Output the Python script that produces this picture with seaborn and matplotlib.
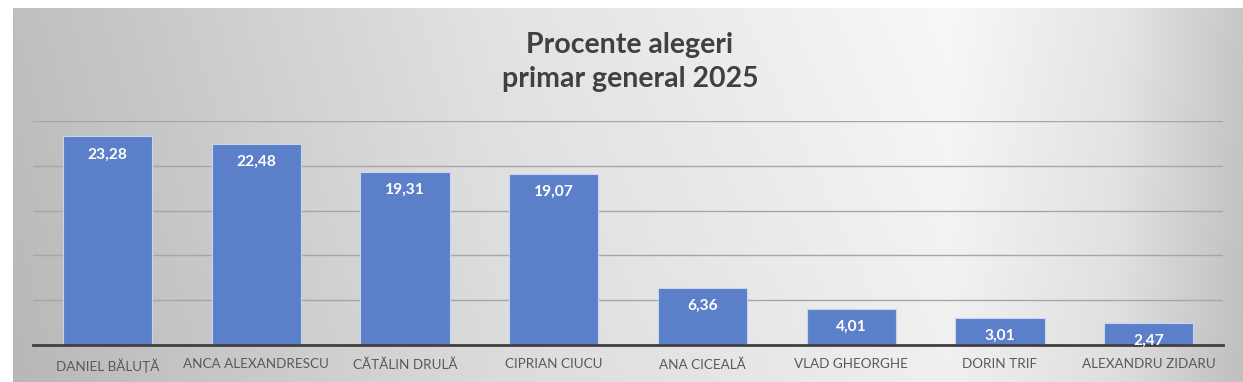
import numpy as np
import pandas as pd
import matplotlib
matplotlib.use("Agg")
import matplotlib.pyplot as plt
import seaborn as sns

categories = ["DANIEL BĂLUȚĂ", "ANCA ALEXANDRESCU", "CĂTĂLIN DRULĂ", "CIPRIAN CIUCU",
              "ANA CICEALĂ", "VLAD GHEORGHE", "DORIN TRIF", "ALEXANDRU ZIDARU"]
values = [23.28, 22.48, 19.31, 19.07, 6.36, 4.01, 3.01, 2.47]
value_labels = ["23,28", "22,48", "19,31", "19,07", "6,36", "4,01", "3,01", "2,47"]
title = "Procente alegeri\nprimar general 2025"

sns.set_theme(style="white")
plt.rcParams["font.family"] = ["Lato", "DejaVu Sans"]

W, H = 1243, 382
fig = plt.figure(figsize=(W / 100, H / 100), dpi=100)
fig.patch.set_facecolor("white")

# background gradient panel
bg = fig.add_axes([0, 0, 1, 1], zorder=-5)
bg.set_xlim(0, W)
bg.set_ylim(0, H)
bg.axis("off")
xs = np.linspace(13, W, 600)
ys = np.linspace(0, H - 8, 200)
X, Y = np.meshgrid(xs, ys)
xp = np.array([13, 500, 950, 1120, W])
vp = np.array([0.75, 0.89, 0.97, 0.90, 0.78])
G = np.interp(X, xp, vp) - 0.03 * (1 - Y / (H - 8))
G = np.clip(G, 0, 1)
rgb = np.dstack([G, G, G])
bg.imshow(rgb, extent=[13, W, 0, H - 8], origin="lower", aspect="auto", interpolation="bilinear")

ax = fig.add_axes([33 / W, 37 / H, 1190 / W, 224 / H])
ax.patch.set_alpha(0)
df = pd.DataFrame({"cand": categories, "val": values})
sns.barplot(data=df, x="cand", y="val", color="#5b7fc9", saturation=1, width=0.6,
            edgecolor="#c9d5ee", linewidth=0.8, ax=ax, zorder=3)
ax.set_xlim(-0.5, len(categories) - 0.5)
ax.set_ylim(0, 25)
ax.set_yticks([0, 5, 10, 15, 20, 25])
ax.set_yticklabels([])
ax.tick_params(axis="y", length=0)
ax.grid(axis="y", color="#a6a6a6", linewidth=1.0, zorder=0)
ax.set_axisbelow(True)
for s in ["top", "right", "left"]:
    ax.spines[s].set_visible(False)
ax.spines["bottom"].set_color("#404040")
ax.spines["bottom"].set_linewidth(2)
ax.spines["bottom"].set_zorder(5)
ax.set_xlabel("")
ax.set_ylabel("")
ax.tick_params(axis="x", length=0, pad=9.5, labelsize=9.7, labelcolor="#595959")

for i, (v, lab) in enumerate(zip(values, value_labels)):
    ax.annotate(lab, xy=(i, v), xytext=(0, -8), textcoords="offset points",
                ha="center", va="top", color="white", fontsize=11.2, fontweight="bold", zorder=6)

fig.text(630 / W, 1 - 62 / H, title, ha="center", va="center", fontsize=20.5,
         fontweight="bold", color="#404040", linespacing=1.35)

fig.savefig("out.png", dpi=100)
